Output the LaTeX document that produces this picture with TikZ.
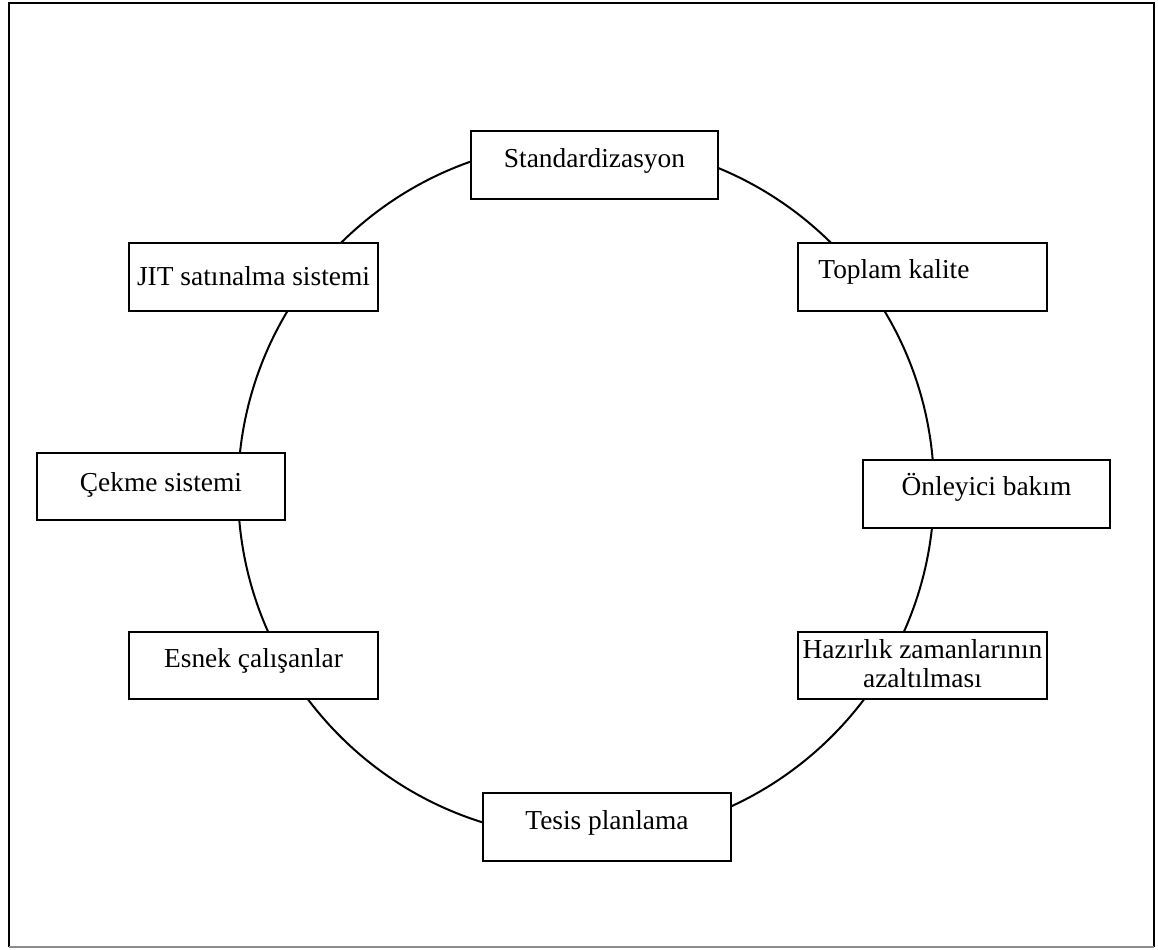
\documentclass[tikz,border=0pt]{standalone}
\usepackage{fontspec}
\setmainfont{Liberation Serif}
\begin{document}
\begin{tikzpicture}[x=0.5pt,y=-0.5pt,
  boxline/.style={draw=black, line width=1pt, fill=white},
  box/.style={boxline, inner sep=0pt, anchor=north west, outer sep=0pt},
  lbl/.style={font=\fontsize{13.7}{14.5}\selectfont, anchor=base, inner sep=0pt},
  lblw/.style={lbl, anchor=base west}]
\useasboundingbox (0,0) rectangle (1158,949);
% frame
\coordinate (ftl) at (9,3);
\coordinate (ftr) at (1154,3);
\coordinate (fbr) at (1154,947);
\coordinate (fbl) at (9,947);
\draw[line width=1pt] (fbl) -- (ftl) -- (ftr) -- (fbr);
\draw[line width=1pt, black!45] (fbl) -- (fbr);
% ring
\coordinate (c) at (586,490);
\draw[line width=1pt] (c) circle [radius=348];
% boxes
\newcommand\mybox[5]{%
  \node[box, minimum width={(#4-#2)*0.5pt}, minimum height={(#5-#3)*0.5pt}] (#1) at (#2,#3) {};}
\mybox{std}{471}{131}{718}{199}
\mybox{top}{798}{243}{1047}{311}
\mybox{jit}{129}{243}{378}{311}
\mybox{cek}{37}{453}{285}{520}
\mybox{onl}{863}{460}{1110}{528}
\mybox{esn}{129}{632}{378}{699}
\mybox{haz}{798}{632}{1047}{699}
\mybox{tes}{483}{793}{731}{861}
% labels
\node[lbl] (tstd) at (594.5,167) {Standardizasyon};
\node[lblw] (ttop) at (818,278) {Toplam kalite};
\node[lbl] (tjit) at (253.5,285) {JIT satınalma sistemi};
\node[lbl] (tcek) at (161,491) {Çekme sistemi};
\node[lbl] (tonl) at (986.5,495) {Önleyici bakım};
\node[lbl] (tesn) at (253.5,667) {Esnek çalışanlar};
\node[lbl] (thaz1) at (922.5,658) {Hazırlık zamanlarının};
\node[lbl] (thaz2) at (922.5,687) {azaltılması};
\node[lbl] (ttes) at (607,829) {Tesis planlama};
\end{tikzpicture}
\end{document}
